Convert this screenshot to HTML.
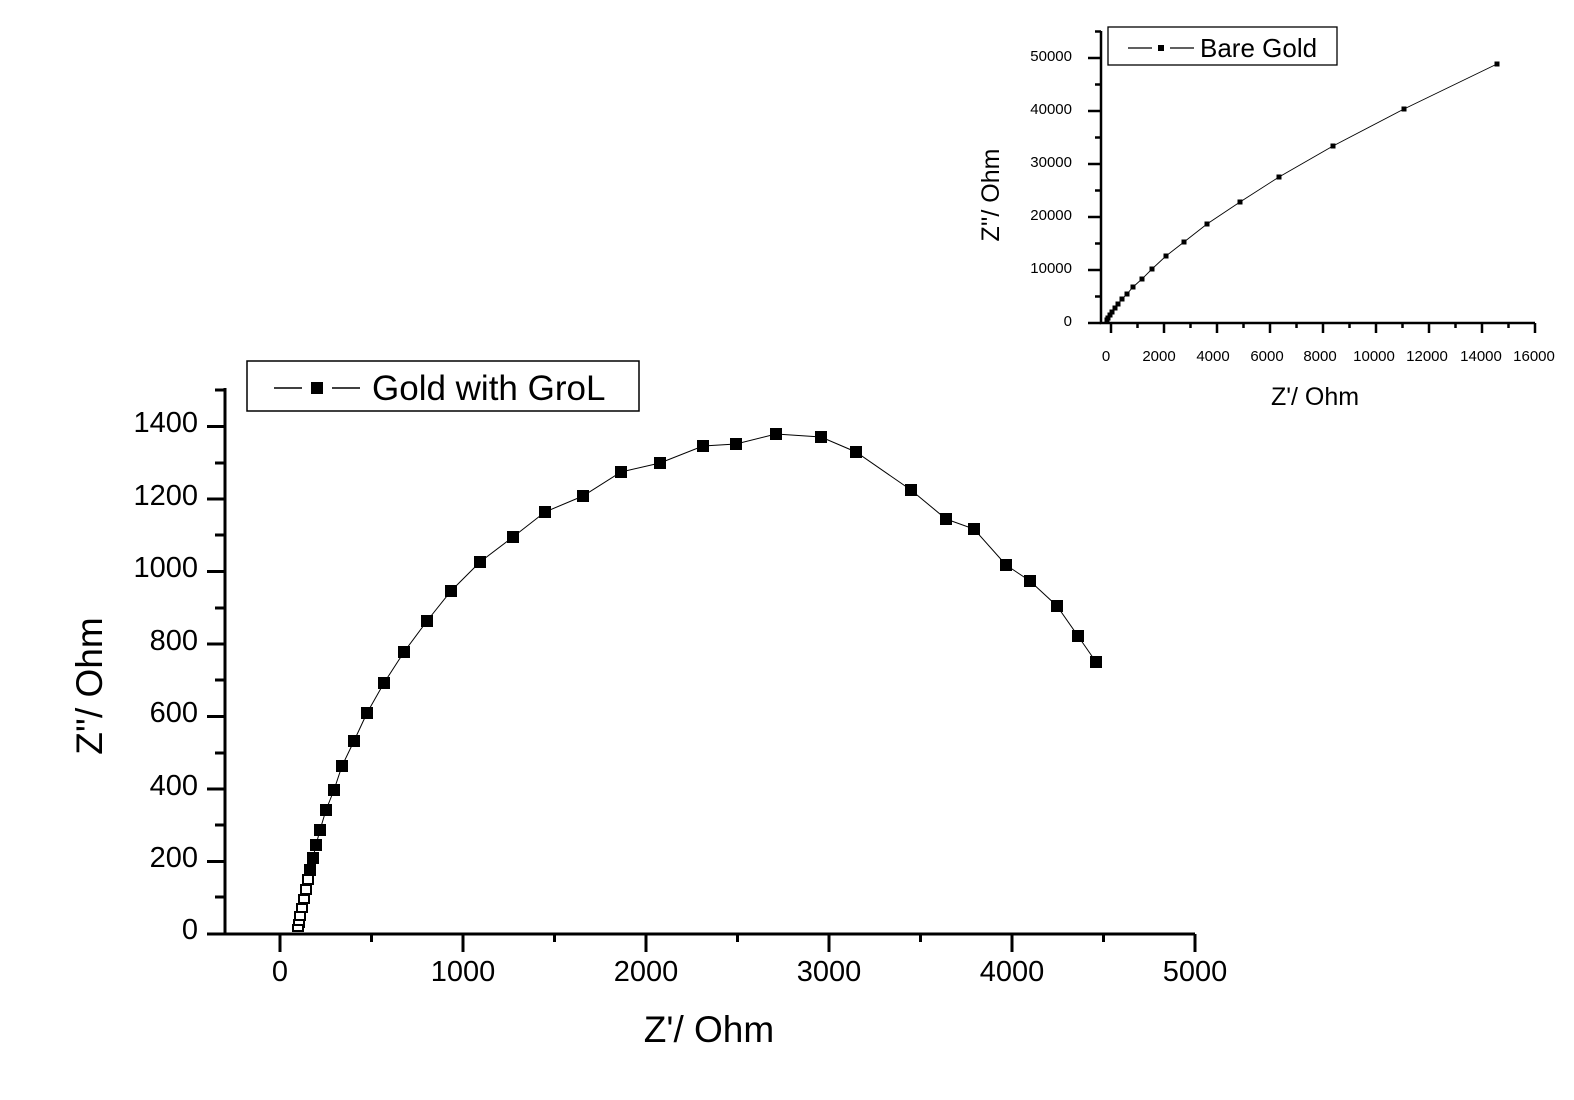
<!DOCTYPE html>
<html><head><meta charset="utf-8"><style>
html,body{margin:0;padding:0;background:#fff;}
svg{display:block;font-family:"Liberation Sans",Arial,sans-serif;}
</style></head><body>
<svg width="1574" height="1100" viewBox="0 0 1574 1100" xmlns="http://www.w3.org/2000/svg">
<rect width="1574" height="1100" fill="#fff"/>
<!-- Main axes -->
<g stroke="#000" stroke-width="3" fill="none">
<path d="M225 388V934H210M225 934H1195"/>
<path d="M280 934V952M463 934V952M646 934V952M829 934V952M1012 934V952M1195 934V952"/>
<path d="M371.5 934V942M554.5 934V942M737.5 934V942M920.5 934V942M1103.5 934V942"/>
<path d="M225 934H207M225 861.5H207M225 789H207M225 716.5H207M225 644H207M225 571.5H207M225 499H207M225 426.5H207"/>
<path d="M225 897H215M225 825H215M225 753H215M225 680H215M225 608H215M225 535H215M225 463H215M225 390H215"/>
</g>
<g font-size="29" text-anchor="middle" fill="#000">
<text x="280" y="981">0</text><text x="463" y="981">1000</text><text x="646" y="981">2000</text>
<text x="829" y="981">3000</text><text x="1012" y="981">4000</text><text x="1195" y="981">5000</text>
</g>
<g font-size="29" text-anchor="end" fill="#000">
<text x="198" y="939">0</text><text x="198" y="867">200</text><text x="198" y="795">400</text>
<text x="198" y="722">600</text><text x="198" y="650">800</text><text x="198" y="577">1000</text>
<text x="198" y="505">1200</text><text x="198" y="432">1400</text>
</g>
<text x="709" y="1042" font-size="37" text-anchor="middle">Z'/ Ohm</text>
<text transform="translate(102,686) rotate(-90)" font-size="37" text-anchor="middle">Z''/ Ohm</text>
<!-- legend main -->
<rect x="247" y="361" width="392" height="50" fill="#fff" stroke="#000" stroke-width="1.5"/>
<path d="M274 388H302M332 388H360" stroke="#000" stroke-width="1.5"/>
<rect x="311" y="382" width="12" height="12" fill="#000"/>
<text x="372" y="400" font-size="35">Gold with GroL</text>
<!-- main series -->
<polyline fill="none" stroke="#000" stroke-width="1" points="1096,662 1078,636 1057,606 1030,581 1006,565 974,529 946,519 911,490 856,452 821,437 776,434 736,444 703,446 660,463 621,472 583,496 545,512 513,537 480,562 451,591 427,621 404,652 384,683 367,713 354,741 342,766 334,790 326,810 320,830 316,845 313,858 310,870 308,880 306,890 304,900 302,908 300,915 299,922 298,927 296,930"/>
<g fill="#000">
<rect x="1090" y="656" width="12" height="12"/><rect x="1072" y="630" width="12" height="12"/><rect x="1051" y="600" width="12" height="12"/><rect x="1024" y="575" width="12" height="12"/><rect x="1000" y="559" width="12" height="12"/><rect x="968" y="523" width="12" height="12"/><rect x="940" y="513" width="12" height="12"/><rect x="905" y="484" width="12" height="12"/><rect x="850" y="446" width="12" height="12"/><rect x="815" y="431" width="12" height="12"/><rect x="770" y="428" width="12" height="12"/><rect x="730" y="438" width="12" height="12"/><rect x="697" y="440" width="12" height="12"/><rect x="654" y="457" width="12" height="12"/><rect x="615" y="466" width="12" height="12"/><rect x="577" y="490" width="12" height="12"/><rect x="539" y="506" width="12" height="12"/><rect x="507" y="531" width="12" height="12"/><rect x="474" y="556" width="12" height="12"/><rect x="445" y="585" width="12" height="12"/><rect x="421" y="615" width="12" height="12"/><rect x="398" y="646" width="12" height="12"/><rect x="378" y="677" width="12" height="12"/><rect x="361" y="707" width="12" height="12"/><rect x="348" y="735" width="12" height="12"/><rect x="336" y="760" width="12" height="12"/><rect x="328" y="784" width="12" height="12"/><rect x="320" y="804" width="12" height="12"/><rect x="314" y="824" width="12" height="12"/><rect x="310" y="839" width="12" height="12"/><rect x="307" y="852" width="12" height="12"/><rect x="304" y="864" width="12" height="12"/>
</g>
<g fill="#fff" stroke="#000" stroke-width="2">
<rect x="303" y="875" width="10" height="9"/><rect x="301" y="885" width="10" height="9"/><rect x="299" y="895" width="10" height="8"/><rect x="297" y="904" width="10" height="8"/><rect x="295" y="912" width="10" height="8"/><rect x="294" y="920" width="10" height="7"/><rect x="293" y="925" width="10" height="6"/>
</g>
<!-- Inset axes -->
<g stroke="#000" stroke-width="2.5" fill="none">
<path d="M1101 31V323H1535"/>
<path d="M1111 323V333M1164 323V333M1217 323V333M1270 323V333M1323 323V333M1376 323V333M1429 323V333M1482 323V333M1535 323V333"/>
<path d="M1137.5 323V328M1190.5 323V328M1243.5 323V328M1296.5 323V328M1349.5 323V328M1402.5 323V328M1455.5 323V328M1508.5 323V328"/>
<path d="M1101 323H1088M1101 270H1088M1101 217H1088M1101 164H1088M1101 111H1088M1101 58H1088"/>
<path d="M1101 296.5H1095M1101 243.5H1095M1101 190.5H1095M1101 137.5H1095M1101 84.5H1095M1101 31.5H1095"/>
</g>
<g font-size="15" text-anchor="middle" fill="#000">
<text x="1106" y="361">0</text><text x="1159" y="361">2000</text><text x="1213" y="361">4000</text><text x="1267" y="361">6000</text><text x="1320" y="361">8000</text><text x="1374" y="361">10000</text><text x="1427" y="361">12000</text><text x="1481" y="361">14000</text><text x="1534" y="361">16000</text>
</g>
<g font-size="15" text-anchor="end" fill="#000">
<text x="1072" y="326">0</text><text x="1072" y="273">10000</text><text x="1072" y="220">20000</text><text x="1072" y="167">30000</text><text x="1072" y="114">40000</text><text x="1072" y="61">50000</text>
</g>
<text x="1315" y="405" font-size="25" text-anchor="middle">Z'/ Ohm</text>
<text transform="translate(999,195) rotate(-90)" font-size="25" text-anchor="middle">Z''/ Ohm</text>
<rect x="1108" y="27" width="229" height="38" fill="#fff" stroke="#000" stroke-width="1.3"/>
<path d="M1128 48H1152M1170 48H1194" stroke="#000" stroke-width="1.2"/>
<rect x="1158" y="45" width="6" height="6" fill="#000"/>
<text x="1200" y="57" font-size="26">Bare Gold</text>
<polyline fill="none" stroke="#000" stroke-width="0.9" points="1497,64 1404,109 1333,146 1279,177 1240,202 1207,224 1184,242 1166,256 1152,269 1142,279 1133,287 1127,294 1122,299 1118,304 1115,308 1112,312 1110,315 1108,318 1107,320"/>
<g fill="#000">
<rect x="1494.5" y="61.5" width="5" height="5"/><rect x="1401.5" y="106.5" width="5" height="5"/><rect x="1330.5" y="143.5" width="5" height="5"/><rect x="1276.5" y="174.5" width="5" height="5"/><rect x="1237.5" y="199.5" width="5" height="5"/><rect x="1204.5" y="221.5" width="5" height="5"/><rect x="1181.5" y="239.5" width="5" height="5"/><rect x="1163.5" y="253.5" width="5" height="5"/><rect x="1149.5" y="266.5" width="5" height="5"/><rect x="1139.5" y="276.5" width="5" height="5"/><rect x="1130.5" y="284.5" width="5" height="5"/><rect x="1124.5" y="291.5" width="5" height="5"/><rect x="1119.5" y="296.5" width="5" height="5"/><rect x="1115.5" y="301.5" width="5" height="5"/><rect x="1112.5" y="305.5" width="5" height="5"/><rect x="1109.5" y="309.5" width="5" height="5"/><rect x="1107.5" y="312.5" width="5" height="5"/><rect x="1105.5" y="315.5" width="5" height="5"/><rect x="1104.5" y="317.5" width="5" height="5"/>
</g>
</svg>
</body></html>
